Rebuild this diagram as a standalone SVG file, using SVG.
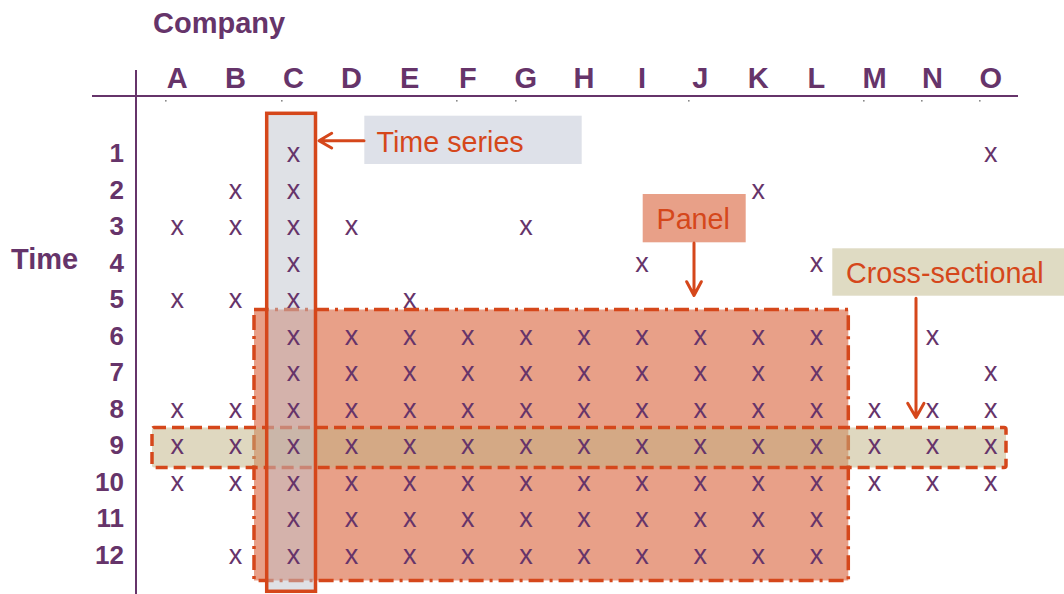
<svg xmlns="http://www.w3.org/2000/svg" width="1064" height="594" viewBox="0 0 1064 594">
<defs>
<style>
.hd{font-family:"Liberation Sans",Arial,sans-serif;font-weight:bold;fill:#66346a;font-size:29px}
.rn{font-family:"Liberation Sans",Arial,sans-serif;font-weight:bold;fill:#66346a;font-size:26px;text-anchor:end}
.cl{text-anchor:middle}
.x{font-family:"Liberation Sans",Arial,sans-serif;fill:#66346a;font-size:27px;text-anchor:middle}
.lb{font-family:"Liberation Sans",Arial,sans-serif;fill:#d5471b;font-size:28.7px}
.ax{stroke:#66346a;stroke-width:2;fill:none}
.ar{stroke:#d5471b;fill:none;stroke-width:3;stroke-linecap:round;stroke-linejoin:round}
.dot{fill:#8a8a8a}
</style>
</defs>
<rect width="1064" height="594" fill="#ffffff"/>
<g id="axes">
<line class="ax" x1="92" y1="96" x2="1018" y2="96"/>
<line class="ax" x1="136" y1="70" x2="136" y2="594"/>
<rect class="dot" x="165" y="100" width="1.6" height="1.6"/>
<rect class="dot" x="281" y="100" width="1.6" height="1.6"/>
<rect class="dot" x="456" y="100" width="1.6" height="1.6"/>
<rect class="dot" x="515" y="100" width="1.6" height="1.6"/>
<rect class="dot" x="688" y="100" width="1.6" height="1.6"/>
<rect class="dot" x="863" y="100" width="1.6" height="1.6"/>
<rect class="dot" x="921" y="100" width="1.6" height="1.6"/>
<rect class="dot" x="979" y="100" width="1.6" height="1.6"/>
</g>
<g id="headers">
<text class="hd" x="153" y="32.5">Company</text>
<text class="hd" x="11" y="269.3">Time</text>
<g class="hd cl">
<text x="177.3" y="88.3">A</text><text x="235.4" y="88.3">B</text><text x="293.5" y="88.3">C</text><text x="351.6" y="88.3">D</text><text x="409.7" y="88.3">E</text><text x="467.8" y="88.3">F</text><text x="525.9" y="88.3">G</text><text x="584" y="88.3">H</text><text x="642.1" y="88.3">I</text><text x="700.2" y="88.3">J</text><text x="758.3" y="88.3">K</text><text x="816.4" y="88.3">L</text><text x="874.5" y="88.3">M</text><text x="932.6" y="88.3">N</text><text x="990.7" y="88.3">O</text>
</g>
<g class="rn">
<text x="124" y="162.3">1</text><text x="124" y="198.8">2</text><text x="124" y="235.3">3</text><text x="124" y="271.8">4</text><text x="124" y="308.3">5</text><text x="124" y="344.8">6</text><text x="124" y="381.3">7</text><text x="124" y="417.8">8</text><text x="124" y="454.3">9</text><text x="124" y="490.8">10</text><text x="124" y="527.3">11</text><text x="124" y="563.8">12</text>
</g>
</g>
<g id="panel-region">
<rect x="254" y="309.5" width="594.3" height="271" fill="#e8a088" stroke="#d5471b" stroke-width="3.5" stroke-dasharray="15 6 3 6"/>
</g>
<g id="cross-section-region">
<rect x="152" y="427.5" width="854" height="40" rx="2" fill="rgb(192,177,129)" fill-opacity="0.5" stroke="#d5471b" stroke-width="3.5" stroke-dasharray="12 6"/>
</g>
<g id="time-series-region">
<rect x="266.7" y="113.3" width="48.8" height="478" fill="rgb(192,195,205)" fill-opacity="0.5"/>
<rect x="266.7" y="113.3" width="48.8" height="478" fill="none" stroke="#d5471b" stroke-width="3.5"/>
</g>
<g id="observations" class="x">
<text x="293.5" y="162.3">x</text><text x="990.7" y="162.3">x</text>
<text x="235.4" y="198.8">x</text><text x="293.5" y="198.8">x</text><text x="758.3" y="198.8">x</text>
<text x="177.3" y="235.3">x</text><text x="235.4" y="235.3">x</text><text x="293.5" y="235.3">x</text><text x="351.6" y="235.3">x</text><text x="525.9" y="235.3">x</text>
<text x="293.5" y="271.8">x</text><text x="642.1" y="271.8">x</text><text x="816.4" y="271.8">x</text>
<text x="177.3" y="308.3">x</text><text x="235.4" y="308.3">x</text><text x="293.5" y="308.3">x</text><text x="409.7" y="308.3">x</text>
<text x="293.5" y="344.8">x</text><text x="351.6" y="344.8">x</text><text x="409.7" y="344.8">x</text><text x="467.8" y="344.8">x</text><text x="525.9" y="344.8">x</text><text x="584" y="344.8">x</text><text x="642.1" y="344.8">x</text><text x="700.2" y="344.8">x</text><text x="758.3" y="344.8">x</text><text x="816.4" y="344.8">x</text><text x="932.6" y="344.8">x</text>
<text x="293.5" y="381.3">x</text><text x="351.6" y="381.3">x</text><text x="409.7" y="381.3">x</text><text x="467.8" y="381.3">x</text><text x="525.9" y="381.3">x</text><text x="584" y="381.3">x</text><text x="642.1" y="381.3">x</text><text x="700.2" y="381.3">x</text><text x="758.3" y="381.3">x</text><text x="816.4" y="381.3">x</text><text x="990.7" y="381.3">x</text>
<text x="177.3" y="417.8">x</text><text x="235.4" y="417.8">x</text><text x="293.5" y="417.8">x</text><text x="351.6" y="417.8">x</text><text x="409.7" y="417.8">x</text><text x="467.8" y="417.8">x</text><text x="525.9" y="417.8">x</text><text x="584" y="417.8">x</text><text x="642.1" y="417.8">x</text><text x="700.2" y="417.8">x</text><text x="758.3" y="417.8">x</text><text x="816.4" y="417.8">x</text><text x="874.5" y="417.8">x</text><text x="932.6" y="417.8">x</text><text x="990.7" y="417.8">x</text>
<text x="177.3" y="454.3">x</text><text x="235.4" y="454.3">x</text><text x="293.5" y="454.3">x</text><text x="351.6" y="454.3">x</text><text x="409.7" y="454.3">x</text><text x="467.8" y="454.3">x</text><text x="525.9" y="454.3">x</text><text x="584" y="454.3">x</text><text x="642.1" y="454.3">x</text><text x="700.2" y="454.3">x</text><text x="758.3" y="454.3">x</text><text x="816.4" y="454.3">x</text><text x="874.5" y="454.3">x</text><text x="932.6" y="454.3">x</text><text x="990.7" y="454.3">x</text>
<text x="177.3" y="490.8">x</text><text x="235.4" y="490.8">x</text><text x="293.5" y="490.8">x</text><text x="351.6" y="490.8">x</text><text x="409.7" y="490.8">x</text><text x="467.8" y="490.8">x</text><text x="525.9" y="490.8">x</text><text x="584" y="490.8">x</text><text x="642.1" y="490.8">x</text><text x="700.2" y="490.8">x</text><text x="758.3" y="490.8">x</text><text x="816.4" y="490.8">x</text><text x="874.5" y="490.8">x</text><text x="932.6" y="490.8">x</text><text x="990.7" y="490.8">x</text>
<text x="293.5" y="527.3">x</text><text x="351.6" y="527.3">x</text><text x="409.7" y="527.3">x</text><text x="467.8" y="527.3">x</text><text x="525.9" y="527.3">x</text><text x="584" y="527.3">x</text><text x="642.1" y="527.3">x</text><text x="700.2" y="527.3">x</text><text x="758.3" y="527.3">x</text><text x="816.4" y="527.3">x</text>
<text x="235.4" y="563.8">x</text><text x="293.5" y="563.8">x</text><text x="351.6" y="563.8">x</text><text x="409.7" y="563.8">x</text><text x="467.8" y="563.8">x</text><text x="525.9" y="563.8">x</text><text x="584" y="563.8">x</text><text x="642.1" y="563.8">x</text><text x="700.2" y="563.8">x</text><text x="758.3" y="563.8">x</text><text x="816.4" y="563.8">x</text>
</g>
<g id="label-time-series">
<rect x="364.3" y="115.7" width="217.4" height="48.3" fill="#dee1e9"/>
<text class="lb" x="376.5" y="151.7">Time series</text>
</g>
<g id="label-panel">
<rect x="642.7" y="194" width="103" height="48.3" fill="#e8a088"/>
<text class="lb" x="656.5" y="229">Panel</text>
</g>
<g id="label-cross-sectional">
<rect x="832.3" y="248.3" width="231.7" height="47.4" fill="#dfdbc3"/>
<text class="lb" x="846" y="282.7">Cross-sectional</text>
</g>
<g id="connectors">
<path class="ar" d="M364 140.7H319.5M331.7 133.3L319 140.7L331.7 148" stroke-width="2.6"/>
<path class="ar" d="M694 243V295M686.7 281.7L694 295.5L701.3 281.7"/>
<path class="ar" d="M916 298.3V417M907.7 403.3L916 417.5L924 403.3"/>
</g>
</svg>
